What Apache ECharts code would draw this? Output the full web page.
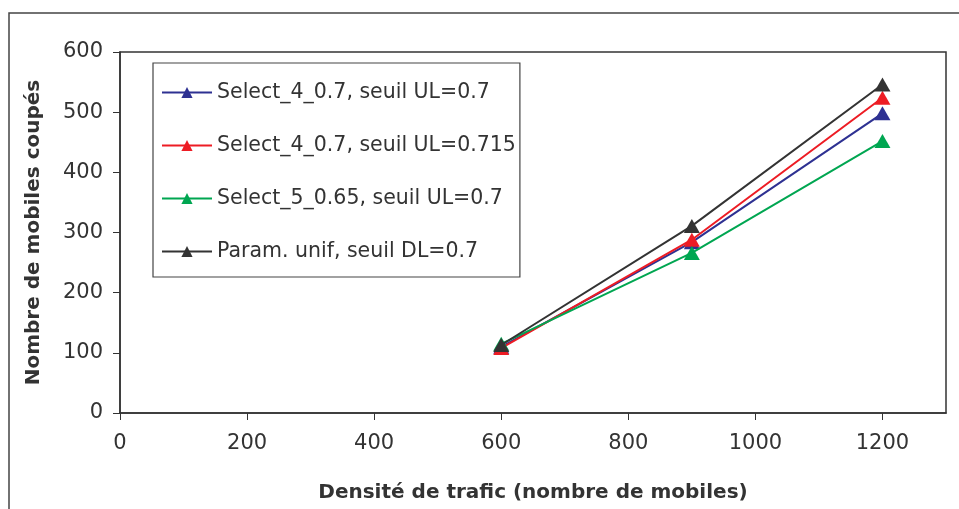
<!DOCTYPE html>
<html><head><meta charset="utf-8">
<script src="https://cdn.jsdelivr.net/npm/echarts@6/dist/echarts.min.js"></script>
<style>html,body{margin:0;padding:0;background:#fff}#c{width:959px;height:509px}</style>
</head><body><div id="c"></div>
<script>
const xValues = [600, 900, 1200];
const seriesNames = ["Select_4_0.7, seuil UL=0.7", "Select_4_0.7, seuil UL=0.715", "Select_5_0.65, seuil UL=0.7", "Param. unif, seuil DL=0.7"];
const select4_07 = [110, 284, 498];
const select4_0715 = [108, 288, 524];
const select5_065 = [115, 266, 452];
const paramUnif = [113, 311, 546];
const colors = ["#2E3192", "#ED1C24", "#00A651", "#333333"];
const xTitle = "Densité de trafic (nombre de mobiles)";
const yTitle = "Nombre de mobiles coupés";

const allData = [select4_07, select4_0715, select5_065, paramUnif];
const font = "DejaVu Sans";
const chart = echarts.init(document.getElementById('c'), null, {renderer: 'canvas'});
chart.setOption({
  animation: false,
  backgroundColor: '#fff',
  graphic: [{type: 'rect', shape: {x: 9, y: 13, width: 1000, height: 600}, style: {fill: 'none', stroke: '#444', lineWidth: 1.5}}],
  grid: {left: 120, top: 52, right: 13, bottom: 96, show: true, borderColor: '#333', borderWidth: 1.5, backgroundColor: 'transparent'},
  legend: {
    orient: 'vertical', left: 153, top: 63,
    padding: [19, 4, 15, 8], itemGap: 32, itemWidth: 50, itemHeight: 14,
    borderColor: '#444', borderWidth: 1.2, backgroundColor: '#fff',
    textStyle: {fontFamily: font, fontSize: 20.5, color: '#333'},
    data: seriesNames
  },
  xAxis: {
    type: 'value', min: 0, max: 1300, interval: 200,
    name: xTitle, nameLocation: 'middle', nameGap: 70,
    nameTextStyle: {fontFamily: font, fontSize: 20, fontWeight: 'bold', color: '#333'},
    axisLine: {lineStyle: {color: '#333', width: 1.5}},
    axisTick: {length: 7, lineStyle: {color: '#333'}},
    axisLabel: {fontFamily: font, fontSize: 21, color: '#333', margin: 20, showMaxLabel: false,
      formatter: v => (v % 200 === 0 ? String(v) : '')},
    splitLine: {show: false}
  },
  yAxis: {
    type: 'value', min: 0, max: 600, interval: 100,
    name: yTitle, nameLocation: 'middle', nameGap: 76,
    nameTextStyle: {fontFamily: font, fontSize: 20, fontWeight: 'bold', color: '#333'},
    axisLine: {show: true, lineStyle: {color: '#333', width: 1.5}},
    axisTick: {show: true, length: 7, lineStyle: {color: '#333'}},
    axisLabel: {fontFamily: font, fontSize: 21, color: '#333', margin: 17},
    splitLine: {show: false}
  },
  series: seriesNames.map((n, i) => ({
    name: n, type: 'line',
    data: xValues.map((x, j) => [x, allData[i][j]]),
    symbol: 'triangle', symbolSize: [16, 14],
    lineStyle: {color: colors[i], width: 2},
    itemStyle: {color: colors[i]},
    z: 2 + i
  }))
});
</script></body></html>
